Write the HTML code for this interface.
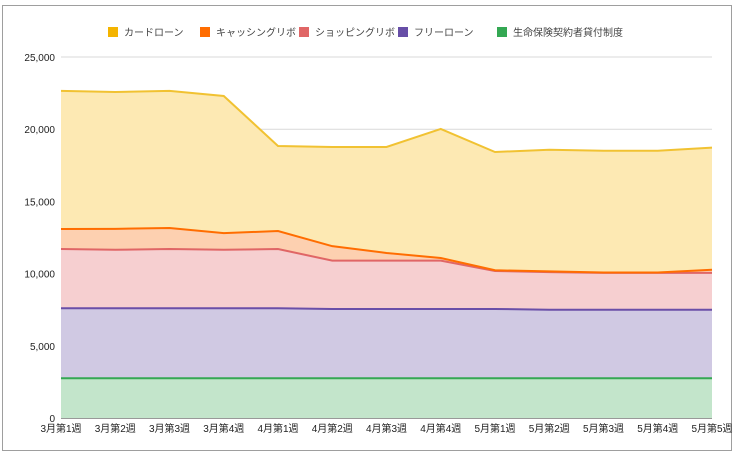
<!DOCTYPE html>
<html><head><meta charset="utf-8"><style>
html,body{margin:0;padding:0;background:#fff;width:736px;height:458px;overflow:hidden;font-family:"Liberation Sans","Noto Sans CJK JP",sans-serif;}
#frame{position:absolute;left:2px;top:5px;width:730px;height:446px;border:1px solid #9e9e9e;box-sizing:border-box;}
</style></head><body>
<div id="frame"></div>
<svg id="chart" width="736" height="458" style="position:absolute;left:0;top:0"></svg>
<script>
const categories=["3月第1週","3月第2週","3月第3週","3月第4週","4月第1週","4月第2週","4月第3週","4月第4週","5月第1週","5月第2週","5月第3週","5月第4週","5月第5週"];
const seriesNames=["生命保険契約者貸付制度","フリーローン","ショッピングリボ","キャッシングリボ","カードローン"];
const lifeInsurance=[2750,2750,2750,2750,2750,2750,2750,2750,2750,2750,2750,2750,2750];
const freeLoan=[4850,4850,4850,4850,4850,4800,4800,4800,4800,4750,4750,4750,4750];
const shoppingRevo=[4100,4050,4100,4050,4100,3350,3350,3350,2630,2600,2550,2550,2550];
const cashingRevo=[1390,1450,1460,1150,1250,1000,530,180,50,50,30,30,220];
const cardLoan=[9560,9480,9490,9500,5890,6870,7340,8940,8190,8430,8430,8430,8450];
const yTicks=[0,5000,10000,15000,20000,25000];
const yTickLabels=["0","5,000","10,000","15,000","20,000","25,000"];
const lineColors=["#34a853","#6a4fa8","#e06666","#ff6d01","#f1c232"];
const fillColors=["#c3e5cb","#d0c9e3","#f6cfd0","#fdd0b0","#fde9b3"];
const legendColors=["#f4b400","#ff6d01","#e06666","#674ea7","#34a853"];
const legendNames=["カードローン","キャッシングリボ","ショッピングリボ","フリーローン","生命保険契約者貸付制度"];
const NS="http://www.w3.org/2000/svg";
const svg=document.getElementById('chart');
const X0=61,X1=712,Y0=418,Y1=57,YMAX=25000;
function xs(i){return X0+(X1-X0)*i/(categories.length-1);}
function ys(v){return Y0-(Y0-Y1)*v/YMAX;}
function mk(t,a){const e=document.createElementNS(NS,t);for(const k in a)e.setAttribute(k,a[k]);svg.appendChild(e);return e;}
// gridlines & y labels
yTicks.forEach((v,i)=>{
  const g=mk('line',{x1:X0,x2:X1,y1:ys(v),y2:ys(v),stroke:v===0?'#333':'#d9d9d9','stroke-width':1});
  
  
  const t=mk('text',{x:55,y:ys(v)+4,'text-anchor':'end','font-size':10,fill:'#222'});
  t.textContent=yTickLabels[i];
  
  
});
// stacks
const all=[lifeInsurance,freeLoan,shoppingRevo,cashingRevo,cardLoan];
let base=categories.map(()=>0);
const layers=[];
all.forEach((s,k)=>{
  const top=base.map((b,i)=>b+s[i]);
  layers.push({base:base.slice(),top:top});
  base=top;
});
layers.forEach((L,k)=>{
  let d='';
  L.top.forEach((v,i)=>{d+=(i?'L':'M')+xs(i)+','+ys(v);});
  for(let i=categories.length-1;i>=0;i--)d+='L'+xs(i)+','+ys(L.base[i]);
  const p=mk('path',{d:d+'Z',fill:fillColors[k],stroke:'none'});
  
  
});
layers.forEach((L,k)=>{
  const pts=L.top.map((v,i)=>xs(i)+','+ys(v)).join(' ');
  const l=mk('polyline',{points:pts,fill:'none',stroke:lineColors[k],'stroke-width':2});
  
  
});
// x labels
categories.forEach((c,i)=>{
  const t=mk('text',{x:xs(i),y:432,'text-anchor':'middle','font-size':10,fill:'#222'});
  t.textContent=c;
  
  
});
// legend
const lx=[108,200,299,398,497];
legendNames.forEach((n,i)=>{
  const r=mk('rect',{x:lx[i],y:27,width:10,height:10,fill:legendColors[i]});
  
  
  const t=mk('text',{x:lx[i]+16,y:36,'font-size':10,fill:'#444'});
  t.textContent=n;
  
  
});
</script>
</body></html>
